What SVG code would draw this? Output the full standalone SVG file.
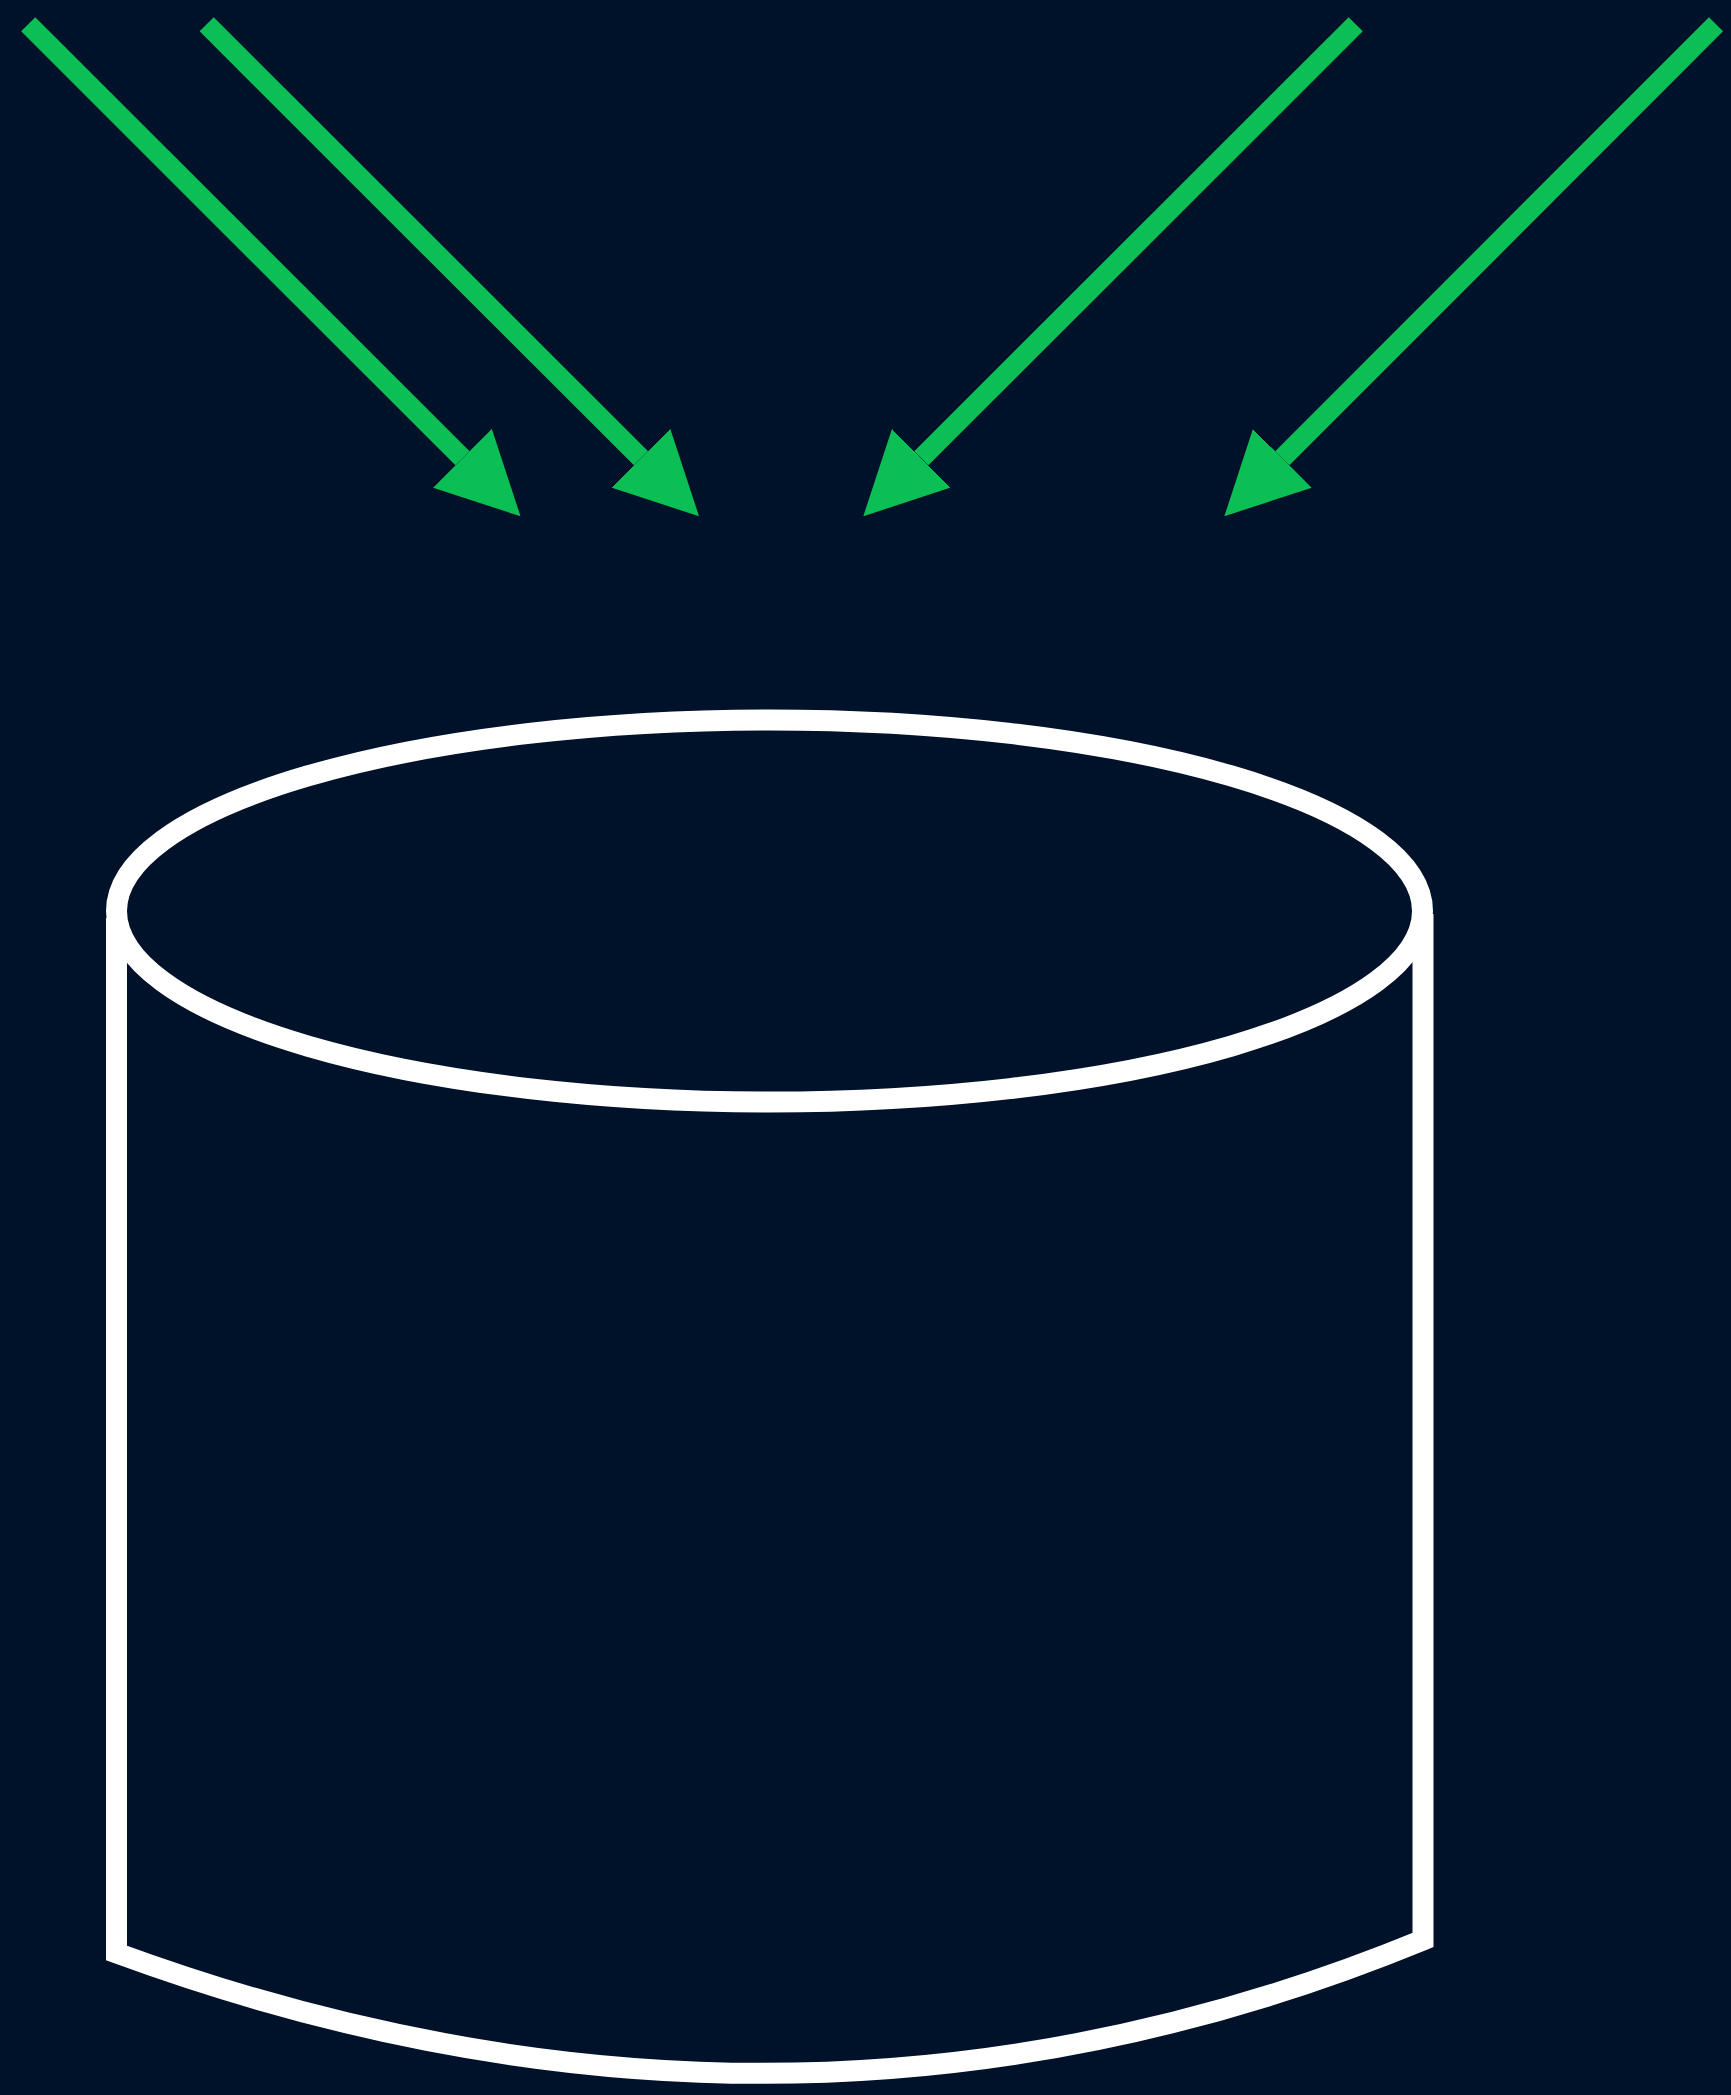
<svg xmlns="http://www.w3.org/2000/svg" width="1731" height="2095" viewBox="0 0 1731 2095">
  <style>
    .arrow { stroke: #0bbf54; stroke-width: 20; fill: none; stroke-linecap: butt; }
    .outline { stroke: #ffffff; stroke-width: 21; fill: none; stroke-linejoin: miter; }
  </style>
  <defs>
    <marker id="head" markerUnits="userSpaceOnUse" viewBox="0 0 82 83" markerWidth="82" markerHeight="83" refX="0" refY="41.5" orient="auto">
      <path d="M0,0 L82,41.5 L0,83 z" fill="#0bbf54"/>
    </marker>
  </defs>
  <rect x="0" y="0" width="1731" height="2095" fill="#00112a"/>
  <g id="cylinder">
    <ellipse class="outline" cx="769.5" cy="911" rx="653" ry="191"/>
    <path class="outline" d="M116.5,918 L116.5,1953 Q790,2200 1423,1940 L1423,914"/>
  </g>
  <g id="connectors">
    <line class="arrow" x1="28.2" y1="24.3" x2="462.5" y2="458.3" marker-end="url(#head)"/>
    <line class="arrow" x1="206.7" y1="24.3" x2="641" y2="458.3" marker-end="url(#head)"/>
    <line class="arrow" x1="1355.7" y1="24.3" x2="921.3" y2="458.3" marker-end="url(#head)"/>
    <line class="arrow" x1="1716" y1="24.3" x2="1282.3" y2="458.3" marker-end="url(#head)"/>
  </g>
</svg>
